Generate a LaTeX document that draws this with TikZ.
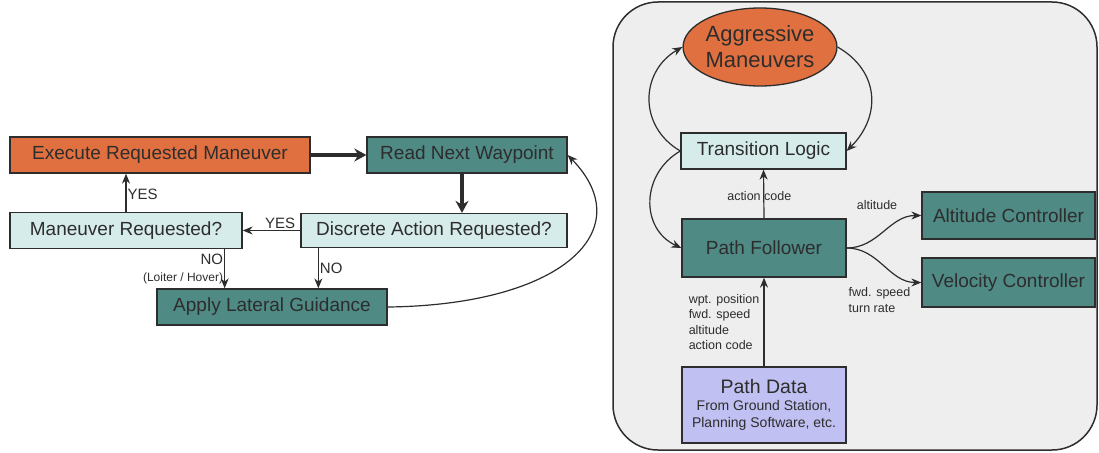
\documentclass[tikz,border=0pt]{standalone}
\usepackage{fontspec}
\setmainfont{Liberation Sans}
\usetikzlibrary{arrows.meta, shapes.geometric}

\definecolor{mnvorange}{RGB}{224,112,63}
\definecolor{flowteal}{RGB}{79,138,133}
\definecolor{flowcyan}{RGB}{214,236,235}
\definecolor{datablue}{RGB}{192,192,242}
\definecolor{framegray}{RGB}{238,238,238}
\definecolor{inkgray}{RGB}{45,45,45}

\begin{document}
\begin{tikzpicture}[x=1pt, y=-1pt,
    box/.style={draw=inkgray, line width=1.3pt, text=inkgray, inner sep=0pt, font=\fontsize{19}{22}\selectfont},
    orangebox/.style={box, fill=mnvorange},
    tealbox/.style={box, fill=flowteal},
    cyanbox/.style={box, fill=flowcyan},
    databox/.style={box, fill=datablue, align=center, font=\fontsize{14}{17}\selectfont},
    framebox/.style={draw=inkgray, line width=1.5pt, fill=framegray, rounded corners=45pt},
    arr/.style={draw=inkgray, line width=1.2pt, -{Stealth[length=10pt, width=8pt]}},
    thickarr/.style={draw=inkgray, line width=3.5pt, -{Stealth[length=12pt, width=13pt]}},
    lbl/.style={text=inkgray, inner sep=1pt, font=\fontsize{15}{17}\selectfont},
    smalllbl/.style={text=inkgray, inner sep=1pt, font=\fontsize{12.5}{15.3}\selectfont},
  ]
    \useasboundingbox (0,0) rectangle (1099,452);

    % left: waypoint loop
    \node[orangebox, minimum width=300pt, minimum height=36pt] (Execute) at (160,155) {Execute Requested Maneuver};
    \node[tealbox, minimum width=200pt, minimum height=36pt] (ReadWpt) at (467,155) {Read Next Waypoint};
    \node[cyanbox, minimum width=266pt, minimum height=34pt] (Discrete) at (434,230.5) {Discrete Action Requested?};
    \node[cyanbox, minimum width=232pt, minimum height=36pt] (ManReq) at (126,230.5) {Maneuver Requested?};
    \node[tealbox, minimum width=230pt, minimum height=36pt] (Apply) at (272,307) {Apply Lateral Guidance};

    \draw[thickarr] (Execute.east) -- (ReadWpt.west);
    \draw[thickarr] ([xshift=-5pt]ReadWpt.south) -- ([xshift=-5pt]ReadWpt.south |- Discrete.north);
    \draw[arr] (Discrete.west) -- (ManReq.east) node[pos=0.35, above, lbl] {YES};
    \draw[arr] (ManReq.north) -- (ManReq.north |- Execute.south) node[pos=0.45, right, lbl] {YES};
    \draw[arr] ([xshift=-18pt]ManReq.south east) -- ([xshift=-18pt]ManReq.south east |- Apply.north)
        node[midway, left, lbl, align=right] {NO\\{\fontsize{12}{14}\selectfont (Loiter / Hover)}};
    \draw[arr] ([xshift=18pt]Discrete.south west) -- ([xshift=18pt]Discrete.south west |- Apply.north)
        node[midway, right, lbl] {NO};
    \draw[arr] (Apply.east) .. controls +(175,-2) and +(73,75) .. (ReadWpt.east);

    % right: controller layout
    \draw[framebox] (613,2) rectangle (1097,450);

    \node[ellipse, orangebox, minimum width=136pt, minimum height=78pt, align=center, font=\fontsize{22}{26}\selectfont] (Aggressive) at (760,47) {Aggressive\\Maneuvers};
    \node[cyanbox, minimum width=165pt, minimum height=36pt] (Transition) at (763.5,151) {Transition Logic};
    \node[tealbox, minimum width=164pt, minimum height=58pt] (Follower) at (764,248) {Path Follower};
    \node[tealbox, minimum width=173pt, minimum height=47pt] (AltCtrl) at (1008.5,215.5) {Altitude Controller};
    \node[tealbox, minimum width=173pt, minimum height=49pt] (VelCtrl) at (1008.5,282.5) {Velocity Controller};
    \node[databox, minimum width=164pt, minimum height=76pt] (PathData) at (764,405) {{\fontsize{19.5}{22}\selectfont Path Data}\\From Ground Station,\\Planning Software, etc.};

    \draw[arr] (Transition.west) to[out=150, in=210, looseness=1.2] (Aggressive.west);
    \draw[arr] (Aggressive.east) to[out=-30, in=45, looseness=1.2] (Transition.east);
    \draw[arr] (Transition.west) to[out=210, in=155, looseness=1.2] (Follower.west);
    \draw[arr] (Follower.north) -- (Transition.south) node[pos=0.46, smalllbl, xshift=-4.5pt] {action code};
    \draw[arr] (PathData.north) -- (Follower.south)
        node[midway, left=3pt, smalllbl, align=left] {wpt. position\\fwd. speed\\altitude\\action code};
    \draw[arr] (Follower.east) to[out=0, in=180] node[pos=0.5, above=21pt, xshift=-7pt, smalllbl] {altitude} (AltCtrl.west);
    \draw[arr] (Follower.east) to[out=0, in=180] node[pos=0.5, below=21pt, xshift=-4.5pt, smalllbl, align=left] {fwd. speed\\turn rate} (VelCtrl.west);
\end{tikzpicture}
\end{document}
